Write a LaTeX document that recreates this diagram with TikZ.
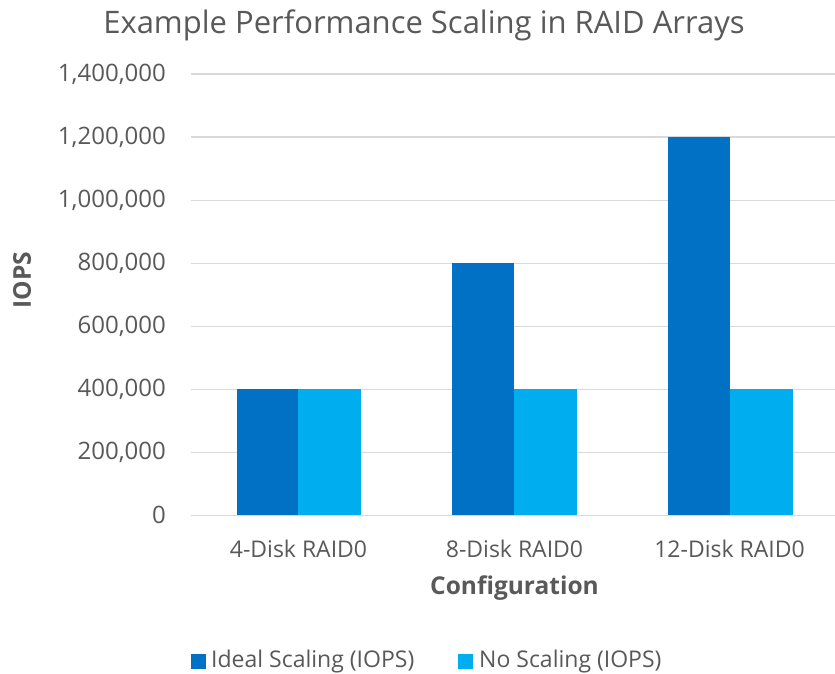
\documentclass[tikz,border=0pt]{standalone}
\usepackage{fontspec}
\setmainfont{Open Sans}
\definecolor{ideal}{HTML}{0071C5}
\definecolor{noscale}{HTML}{00AEEF}
\definecolor{txt}{HTML}{595959}
\definecolor{grid}{HTML}{D9D9D9}
\begin{document}
\begin{tikzpicture}[x=1pt,y=-1pt,
  lbl/.style={text=txt,font=\fontsize{23}{27}\selectfont,inner sep=0pt},
  vlbl/.style={text=txt,font=\fontsize{24}{28}\selectfont,inner sep=0pt},
  ttl/.style={text=txt,font=\fontsize{31}{36}\selectfont,inner sep=0pt},
  axt/.style={text=txt,font=\fontsize{24.5}{28}\selectfont\bfseries,inner sep=0pt},
  gridline/.style={draw=grid,line width=1.6pt}]
\useasboundingbox[fill=white] (0,0) rectangle (835,674);
% title
\node[ttl] (title) at (424,25) {Example Performance Scaling in RAID Arrays};
% horizontal grid and value labels (63 px per 200,000)
\foreach \v/\t [count=\i] in {0/0,1/{200,000},2/{400,000},3/{600,000},4/{800,000},5/{1,000,000},6/{1,200,000},7/{1,400,000}}{
  \coordinate (g\i a) at (191,{515.3-63*\v});
  \coordinate (g\i b) at (835,{515.3-63*\v});
  \draw[gridline] (g\i a) -- (g\i b);
  \node[vlbl,anchor=east] (y\i) at (166,{515.3-63*\v}) {\t};
}
% bars: ideal scaling
\fill[ideal] (236.7,515.3) rectangle (297.7,389.3);
\fill[ideal] (452.0,515.3) rectangle (514.3,263.3);
\fill[ideal] (667.7,515.3) rectangle (729.8,137.3);
% bars: no scaling
\fill[noscale] (297.7,515.3) rectangle (361.0,389.3);
\fill[noscale] (514.3,515.3) rectangle (576.7,389.3);
\fill[noscale] (729.8,515.3) rectangle (792.7,389.3);
% category labels
\node[lbl] (c1) at (298.5,549) {4-Disk RAID0};
\node[lbl] (c2) at (514.5,549) {8-Disk RAID0};
\node[lbl] (c3) at (729.5,549) {12-Disk RAID0};
% axis titles
\node[axt] (xt) at (514.5,588) {Configuration};
\node[axt,rotate=90] (yt) at (22,280) {IOPS};
% legend
\fill[ideal] (190.7,654) rectangle (205.7,669);
\node[lbl,anchor=west] (l1) at (211,661.5) {Ideal Scaling (IOPS)};
\fill[noscale] (458,654) rectangle (473,669);
\node[lbl,anchor=west] (l2) at (479,661.5) {No Scaling (IOPS)};
\end{tikzpicture}
\end{document}
